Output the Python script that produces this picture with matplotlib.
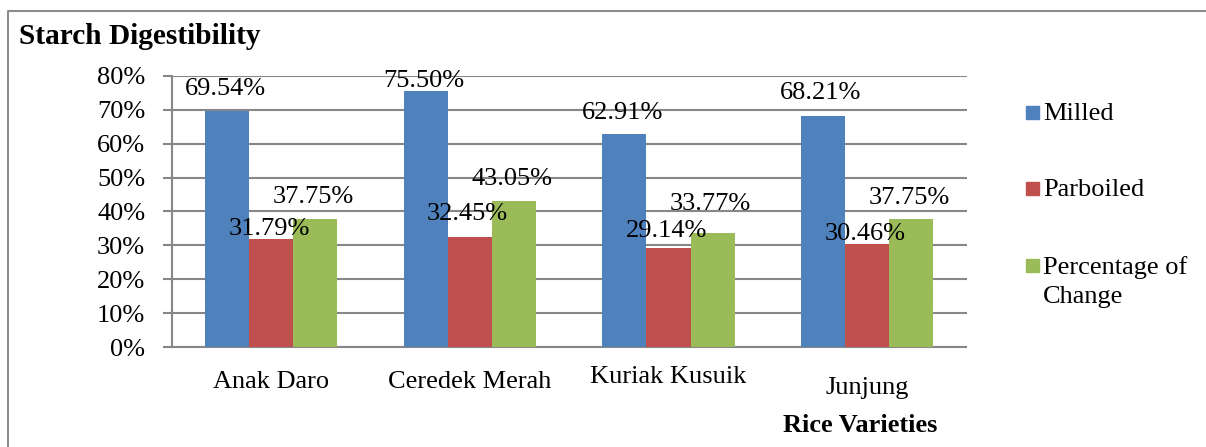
import matplotlib
matplotlib.use("Agg")
import matplotlib.pyplot as plt
import matplotlib.ticker as ticker
from matplotlib.lines import Line2D
from matplotlib.patches import Rectangle
import numpy as np

varieties = ['Anak Daro', 'Ceredek Merah', 'Kuriak Kusuik', 'Junjung']
series = ['Milled', 'Parboiled', 'Percentage of\nChange']
milled = [69.54, 75.50, 62.91, 68.21]
parboiled = [31.79, 32.45, 29.14, 30.46]
change = [37.75, 43.05, 33.77, 37.75]
y_ticks = [0, 10, 20, 30, 40, 50, 60, 70, 80]

colors = ['#4F81BD', '#C0504D', '#9BBB59']
# label lift above bar top, pixels (labels were hand-placed in the original)
lifts = [[25, 13, 23, 25], [13, 26, 20, 12], [25, 25, 31, 24]]
# category label drop below the axis, pixels
drops = [41, 41, 36, 47]

plt.rcParams['font.family'] = ['Liberation Serif', 'DejaVu Serif']
W, H = 1206, 447
fig = plt.figure(figsize=(W / 100, H / 100), dpi=100)
ax = fig.add_axes([171.7 / W, 1 - 347 / H, (966.5 - 171.7) / W, (347 - 76) / H])

grey = '#878787'
x = np.arange(len(varieties))
w = 0.222
for j, vals in enumerate([milled, parboiled, change]):
    bars = ax.bar(x + (j - 1) * w, vals, w, color=colors[j], zorder=3)
    for k, b in enumerate(bars):
        ax.annotate(f'{vals[k]:.2f}%', (b.get_x() + b.get_width() / 2, b.get_height()),
                    xytext=(-2, lifts[j][k]), textcoords='offset pixels',
                    ha='center', va='center_baseline', fontsize=19, zorder=4)

ax.set_xlim(-0.5, len(varieties) - 0.5)
ax.set_ylim(0, 80)
ax.set_yticks(y_ticks)
ax.yaxis.set_major_formatter(ticker.FuncFormatter(lambda v, p: f'{v:.0f}%'))
ax.set_xticks([])
ax.yaxis.grid(True, color=grey, lw=1.5, zorder=0)
ax.set_axisbelow(True)
for s in ['top', 'right']:
    ax.spines[s].set_visible(False)
for s in ['left', 'bottom']:
    ax.spines[s].set_color(grey)
    ax.spines[s].set_linewidth(1.5)
ax.tick_params(axis='y', length=6.5, width=1.5, color=grey, pad=12.5, labelsize=19)

for k, name in enumerate(varieties):
    ax.annotate(name, (x[k], 0), xytext=(0, -drops[k]), textcoords='offset pixels',
                ha='center', va='baseline', fontsize=19, annotation_clip=False)

fig.text(19 / W, 1 - 44 / H, 'Starch Digestibility', fontsize=21.2, fontweight='bold',
         ha='left', va='baseline')
fig.text(860 / W, 1 - 432 / H, 'Rice Varieties', fontsize=19, fontweight='bold',
         ha='center', va='baseline')

# legend drawn by hand to keep Excel's spacing
leg_y = [112, 188, 265]
for j, name in enumerate(series):
    yc = leg_y[j]
    fig.add_artist(Rectangle((1026 / W, 1 - (yc + 6.5) / H), 13 / W, 13 / H,
                             transform=fig.transFigure, color=colors[j]))
    for n, line in enumerate(name.split('\n')):
        fig.text(1043 / W, 1 - (yc + 29 * n) / H, line, fontsize=19,
                 ha='left', va='center_baseline')

# outer frame (open at right and bottom as in the cropped original)
fig.add_artist(Line2D([7.5 / W, 7.5 / W, 1], [0, 1 - 11 / H, 1 - 11 / H],
                      transform=fig.transFigure, color='#8c8c8c', lw=1.5))

fig.savefig('out.png', dpi=100)
